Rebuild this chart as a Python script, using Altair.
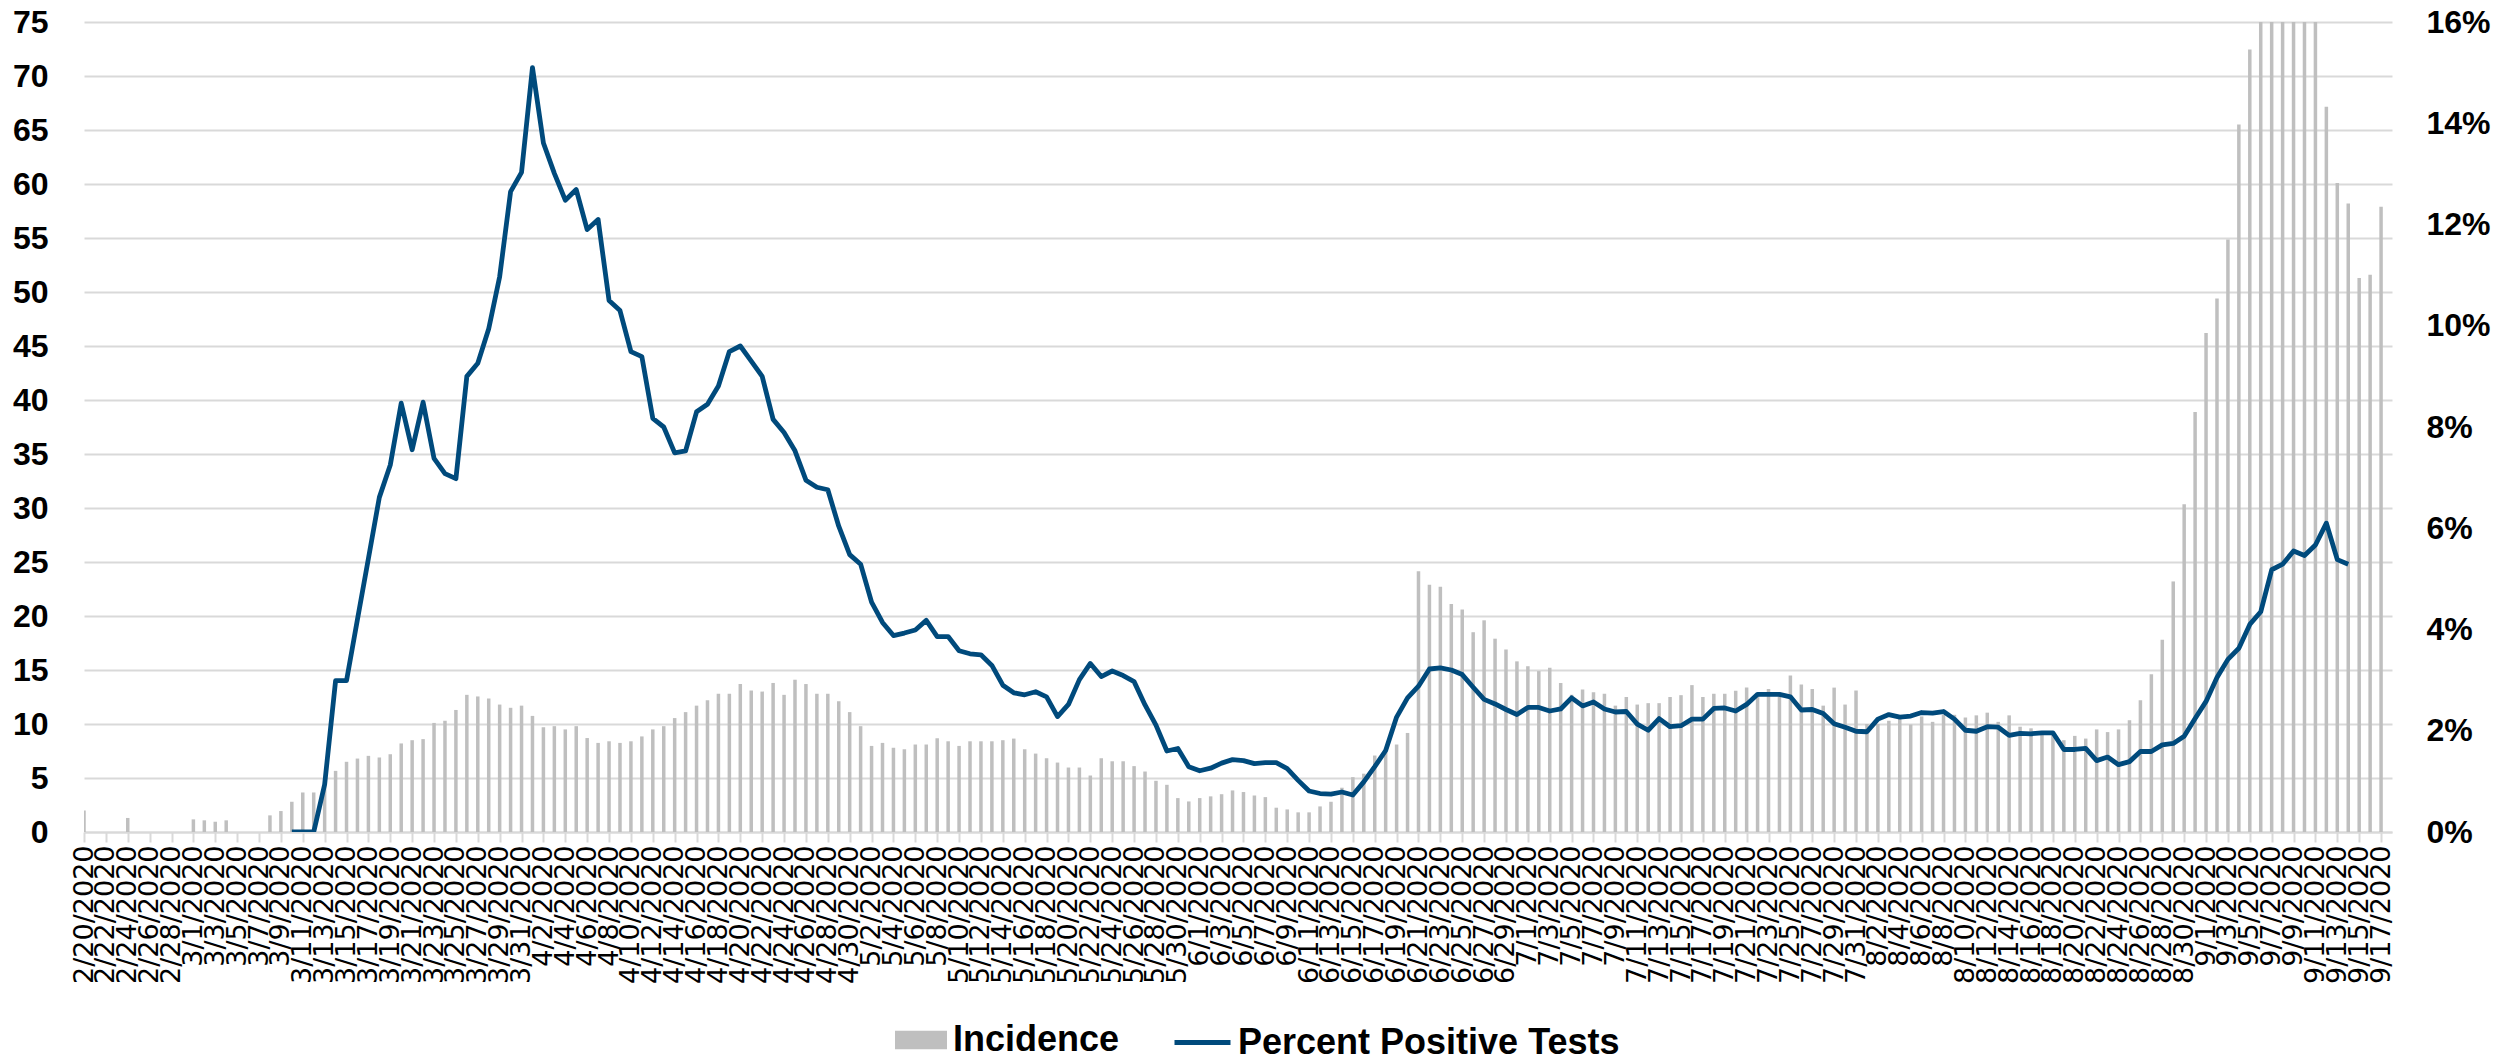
import altair as alt
import pandas as pd

# ---- categories ----
dates = pd.date_range("2020-02-20", "2020-09-18", freq="D")
date_labels = [f"{d.month}/{d.day}/{d.year}" for d in dates]

# ---- Incidence (left axis) ----
feb_inc = [2.0, 0, 0, 0, 1.3, 0, 0, 0, 0, 0]
mar_inc = [1.17, 1.08, 0.95, 1.08, 0, 0, 0, 1.54, 1.94, 2.8, 3.66, 3.66, 4.5, 5.66, 6.5, 6.8,
           7.05, 6.9, 7.2, 8.2, 8.5, 8.6, 10.1, 10.3, 11.3, 12.7, 12.55, 12.36, 11.8, 11.5, 11.7]
apr_inc = [10.75, 9.7, 9.8, 9.5, 9.8, 8.7, 8.25, 8.4, 8.25, 8.4, 8.85, 9.5, 9.8, 10.55, 11.1,
           11.7, 12.2, 12.8, 12.8, 13.7, 13.1, 13.0, 13.8, 12.7, 14.1, 13.7, 12.8, 12.8, 12.1, 11.1]
may_inc = [9.8, 7.97, 8.25, 7.8, 7.66, 8.1, 8.1, 8.68, 8.4, 7.97, 8.4, 8.4, 8.4, 8.5, 8.65, 7.66,
           7.26, 6.83, 6.43, 5.97, 5.97, 5.23, 6.83, 6.55, 6.55, 6.1, 5.6, 4.74, 4.37, 3.14, 2.83]
jun_inc = [3.14, 3.3, 3.5, 3.85, 3.7, 3.38, 3.23, 2.25, 2.09, 1.82, 1.82, 2.37, 2.8, 4.1, 5.08,
           5.4, 7.08, 7.7, 8.1, 9.17, 24.15, 22.9, 22.7, 21.1, 20.6, 18.5, 19.6, 17.9, 16.9, 15.8]
jul_inc = [15.35, 14.9, 15.2, 13.8, 12.7, 13.2, 12.95, 12.8, 11.7, 12.5, 11.8, 11.93, 11.93, 12.5,
           12.67, 13.6, 12.5, 12.8, 12.8, 13.07, 13.37, 12.6, 13.25, 12.9, 14.5, 13.65, 13.25, 11.7,
           13.37, 11.8, 13.1]
aug_inc = [10.0, 10.0, 10.3, 10.5, 9.95, 10.7, 10.2, 10.85, 10.85, 10.6, 10.8, 11.05, 10.2, 10.8,
           9.75, 9.6, 9.1, 9.1, 8.5, 8.9, 8.65, 9.5, 9.25, 9.5, 10.35, 12.2, 14.6, 17.8, 23.2,
           30.35, 38.9]
sep_inc = [46.2, 49.4, 54.85, 65.5, 72.45, 80, 84, 87, 88, 85, 79, 67.15, 60.1, 58.2, 51.3, 51.6, 57.9]

# ---- Percent positive tests (right axis, %) : 3/10 .. 9/14 ----
mar_pct = [0, 0, 0, 0.94, 2.99, 2.99, 4.20, 5.40, 6.61, 7.25, 8.47, 7.55, 8.49, 7.38, 7.08, 6.98,
           9.00, 9.26, 9.94, 10.97, 12.65, 13.03]
apr_pct = [15.10, 13.61, 13.01, 12.48, 12.69, 11.90, 12.10, 10.50, 10.30, 9.49, 9.39, 8.17, 8.00,
           7.49, 7.53, 8.30, 8.45, 8.81, 9.49, 9.60, 9.30, 9.00, 8.15, 7.89, 7.53, 6.95, 6.81,
           6.76, 6.04, 5.48]
may_pct = [5.29, 4.54, 4.14, 3.88, 3.93, 3.99, 4.18, 3.86, 3.86, 3.58, 3.52, 3.50, 3.29, 2.90,
           2.75, 2.71, 2.77, 2.67, 2.28, 2.52, 3.01, 3.33, 3.07, 3.18, 3.09, 2.97, 2.51, 2.11,
           1.60, 1.65, 1.29]
jun_pct = [1.21, 1.26, 1.36, 1.43, 1.41, 1.35, 1.37, 1.37, 1.25, 1.02, 0.81, 0.76, 0.75, 0.79,
           0.73, 0.99, 1.29, 1.61, 2.27, 2.65, 2.88, 3.22, 3.24, 3.20, 3.11, 2.86, 2.62, 2.53,
           2.42, 2.32]
jul_pct = [2.46, 2.46, 2.39, 2.43, 2.65, 2.49, 2.57, 2.43, 2.37, 2.38, 2.13, 2.01, 2.24, 2.08,
           2.10, 2.23, 2.23, 2.44, 2.45, 2.39, 2.52, 2.72, 2.72, 2.72, 2.67, 2.41, 2.42, 2.34,
           2.14, 2.07, 1.99]
aug_pct = [1.98, 2.23, 2.32, 2.27, 2.29, 2.36, 2.35, 2.38, 2.23, 2.01, 1.99, 2.08, 2.07, 1.91,
           1.95, 1.94, 1.96, 1.96, 1.63, 1.63, 1.65, 1.41, 1.48, 1.33, 1.39, 1.59, 1.59, 1.72,
           1.75, 1.89, 2.24]
sep_pct = [2.58, 3.05, 3.41, 3.63, 4.10, 4.35, 5.18, 5.29, 5.55, 5.46, 5.67, 6.10, 5.38, 5.29]

left_ticks = list(range(0, 80, 5))
right_ticks = list(range(0, 18, 2))

incidence = feb_inc + mar_inc + apr_inc + may_inc + jun_inc + jul_inc + aug_inc + sep_inc
pct = ([None] * 19 + mar_pct + apr_pct + may_pct + jun_pct + jul_pct + aug_pct + sep_pct
       + [None] * 3)
n = len(incidence)

df = pd.DataFrame({
    "date": date_labels[:n],
    "inc": incidence,
    "pct": pct[:n],
    "s1": "Incidence",
    "s2": "Percent Positive Tests",
})

FONT = "DejaVu Sans"
BOLD_FONT = "Liberation Sans"
GRID = "#d9d9d9"
BAR = "#bfbfbf"
LINE = "#004a7c"

x_enc = alt.X(
    "date:O",
    scale=alt.Scale(type="point", domain=date_labels, padding=0),
    axis=alt.Axis(
        values=date_labels[::2], labelAngle=-90, labelFont=FONT, labelFontSize=27,
        labelColor="black", labelOverlap=False, labelPadding=3, labelBound=False,
        labelFlush=False, tickColor=GRID, tickSize=10, tickWidth=2, domainColor=GRID,
        domainWidth=2, title=None, grid=False,
    ),
)

base = alt.Chart(df)

bars = base.mark_bar(width=3.5, clip=True).encode(
    x=x_enc,
    y=alt.Y(
        "inc:Q",
        scale=alt.Scale(domain=[0, 75], nice=False),
        axis=alt.Axis(
            values=left_ticks, title=None, labelFont=BOLD_FONT, labelFontSize=32,
            labelFontWeight="bold", labelColor="black", labelPadding=36, domain=False,
            ticks=False, grid=True, gridColor=GRID, gridWidth=2,
        ),
    ),
    color=alt.Color(
        "s1:N",
        scale=alt.Scale(domain=["Incidence"], range=[BAR]),
        legend=alt.Legend(
            orient="none", legendX=811, legendY=992, title=None,
            symbolType="M-1,-0.36L1,-0.36L1,0.36L-1,0.36Z", symbolSize=2704,
            symbolStrokeWidth=0, symbolOpacity=1, labelFont=BOLD_FONT, labelFontWeight="bold",
            labelFontSize=36, labelColor="black", labelOffset=6, labelLimit=2000, padding=0,
        ),
    ),
)

line = base.mark_line(strokeWidth=4.8, strokeJoin="round", clip=True).encode(
    x=x_enc,
    y=alt.Y(
        "pct:Q",
        scale=alt.Scale(domain=[0, 16], nice=False),
        axis=alt.Axis(
            orient="right", values=right_ticks, labelExpr="datum.value + '%'", title=None,
            labelFont=BOLD_FONT, labelFontSize=32, labelFontWeight="bold", labelColor="black",
            labelPadding=34, domain=False, ticks=False, grid=False,
        ),
    ),
    stroke=alt.Stroke(
        "s2:N",
        scale=alt.Scale(domain=["Percent Positive Tests"], range=[LINE]),
        legend=alt.Legend(
            orient="none", legendX=1088, legendY=990, title=None, symbolType="stroke",
            symbolSize=3136, symbolStrokeWidth=5, labelFont=BOLD_FONT, labelFontWeight="bold",
            labelFontSize=36, labelColor="black", labelOffset=5, labelLimit=2000, padding=0,
        ),
    ),
)

chart = (
    alt.layer(bars, line)
    .resolve_scale(y="independent", color="independent", stroke="independent")
    .properties(
        width=2308, height=810,
        padding={"left": 76, "top": 14, "right": 99, "bottom": 222},
        autosize=alt.AutoSizeParams(type="none"),
        background="white",
    )
    .configure_view(stroke=None)
)

chart.save("out.html", embed_options={"renderer": "svg", "actions": False})
